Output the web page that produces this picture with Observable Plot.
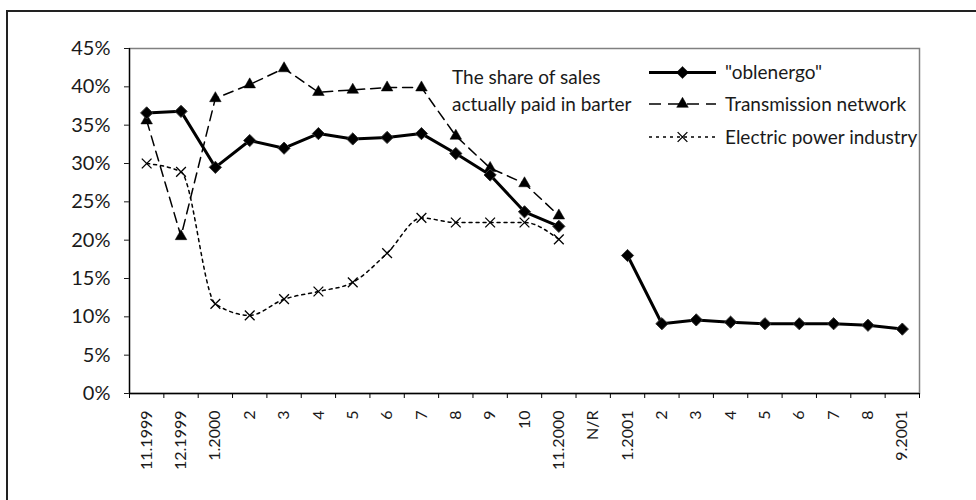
<!DOCTYPE html>
<html>
<head>
<meta charset="utf-8">
<script src="https://cdn.jsdelivr.net/npm/d3@7"></script>
<script src="https://cdn.jsdelivr.net/npm/@observablehq/plot@0.6"></script>
<style>
  body { margin: 0; background: #fff; }
  #wrap { position: relative; width: 976px; height: 500px; overflow: hidden; font-family: Lato, "Open Sans", sans-serif; color: #1a1a1a; }
  #box { position: absolute; left: 6px; top: 10px; width: 1100px; height: 700px; border: 2px solid #222; box-sizing: border-box; }
  #chart { position: absolute; left: 0; top: 0; }
  .note { position: absolute; left: 452px; top: 63px; font-size: 19px; line-height: 27px; white-space: nowrap; }
  #legend { position: absolute; left: 0; top: 0; }
</style>
</head>
<body>
<div id="wrap">
  <div id="box"></div>
  <div id="chart"></div>
  <div class="note">The share of sales<br>actually paid in barter</div>
  <svg id="legend" width="976" height="200"></svg>
</div>
<script>
// ---- Data (percent of sales actually paid in barter) ----
const xLabels = ["11.1999","12.1999","1.2000","2","3","4","5","6","7","8","9","10","11.2000","N/R","1.2001","2","3","4","5","6","7","8","9.2001"];
const oblenergo    = [36.6, 36.8, 29.5, 33.0, 32.0, 33.9, 33.2, 33.4, 33.9, 31.3, 28.5, 23.7, 21.8, null, 18.0, 9.1, 9.6, 9.3, 9.1, 9.1, 9.1, 8.9, 8.4];
const transmission = [35.6, 20.5, 38.5, 40.3, 42.4, 39.3, 39.6, 39.9, 39.9, 33.6, 29.4, 27.4, 23.2, null, null, null, null, null, null, null, null, null, null];
const electric     = [30.0, 28.9, 11.7, 10.2, 12.3, 13.3, 14.5, 18.3, 22.9, 22.3, 22.3, 22.3, 20.1, null, null, null, null, null, null, null, null, null, null];
const yTicks = [0, 5, 10, 15, 20, 25, 30, 35, 40, 45];
const seriesNames = ["\"oblenergo\"", "Transmission network", "Electric power industry"];

const n = xLabels.length;
const idx = d3.range(n);
const xDomain = [-0.5, n - 0.5];
const rows = (vals) => idx.map(i => ({i, v: vals[i]}));
const ob = rows(oblenergo), tr = rows(transmission), el = rows(electric);
const has = d => d.v != null;
const bounds = d3.range(n + 1).map(i => i - 0.5);
const FONT = "Lato, 'Open Sans', sans-serif";

const hasAxisMarks = typeof Plot.axisY === "function";
const xAxisOpts = {ticks: idx, tickFormat: i => xLabels[i], tickSize: 0, tickPadding: 17, tickRotate: -90, label: null};
const yAxisOpts = {ticks: yTicks, tickFormat: d => d + "%", tickSize: 5, tickPadding: 14, label: null};

const dataMarks = [
  Plot.frame({stroke: "#808080", strokeWidth: 1.5}),
  Plot.ruleY([0], {stroke: "#000", strokeWidth: 1.3}),
  Plot.ruleX([xDomain[0]], {stroke: "#000", strokeWidth: 1.3}),
  Plot.ruleX(bounds, {y1: 0, y2: 0, insetBottom: -5, stroke: "#000", strokeWidth: 1}),
  Plot.line(el, {x: "i", y: "v", curve: "monotone-x", stroke: "#000", strokeWidth: 1.5, strokeDasharray: "3,4"}),
  Plot.line(tr, {x: "i", y: "v", stroke: "#000", strokeWidth: 1.5, strokeDasharray: "10,6"}),
  Plot.line(ob, {x: "i", y: "v", stroke: "#000", strokeWidth: 3}),
  Plot.dot(el.filter(has), {x: "i", y: "v", symbol: "times", r: 4.5, stroke: "#000", strokeWidth: 1.3}),
  Plot.dot(tr.filter(has), {x: "i", y: "v", symbol: "triangle", r: 4.3, fill: "#000", stroke: "#000", strokeWidth: 0.5}),
  Plot.dot(ob.filter(has), {x: "i", y: "v", symbol: "diamond2", r: 5.5, fill: "#000", stroke: "#333", strokeWidth: 1})
];

const marks = hasAxisMarks
  ? [Plot.axisX({...xAxisOpts, fontSize: 16}), Plot.axisY({...yAxisOpts, fontSize: 20}), ...dataMarks]
  : dataMarks;

const chart = Plot.plot({
  width: 976,
  height: 500,
  marginLeft: 129,
  marginRight: 57,
  marginTop: 48,
  marginBottom: 107,
  style: {fontFamily: FONT, fontSize: "16px", color: "#1a1a1a", background: "transparent", overflow: "visible"},
  x: hasAxisMarks ? {type: "linear", domain: xDomain} : {type: "linear", domain: xDomain, ...xAxisOpts},
  y: hasAxisMarks ? {domain: [0, 45]} : {domain: [0, 45], ...yAxisOpts},
  marks
});
document.getElementById("chart").appendChild(chart);

// ---- Legend overlay ----
const lg = d3.select("#legend");
const legendItems = [
  {name: seriesNames[0], dash: null, width: 3, sym: d3.symbolDiamond2, size: Math.PI * 5.5 * 5.5, fill: "#000"},
  {name: seriesNames[1], dash: "12,7", width: 1.5, sym: d3.symbolTriangle, size: Math.PI * 4.3 * 4.3, fill: "#000"},
  {name: seriesNames[2], dash: "3,4", width: 1.5, sym: d3.symbolTimes, size: Math.PI * 4.5 * 4.5, fill: "none"}
];
const lx0 = 649, lx1 = 716, ly = [72.5, 104, 137];
legendItems.forEach((d, k) => {
  const g = lg.append("g").attr("transform", `translate(0,${ly[k]})`);
  g.append("line").attr("x1", lx0).attr("x2", lx1).attr("stroke", "#000")
    .attr("stroke-width", d.width).attr("stroke-dasharray", d.dash);
  g.append("path").attr("transform", `translate(${(lx0 + lx1) / 2},0)`)
    .attr("d", d3.symbol(d.sym, d.size)())
    .attr("fill", d.fill).attr("stroke", "#000").attr("stroke-width", d.fill === "none" ? 1.3 : 0.5);
  g.append("text").attr("x", 725).attr("y", 6.5).attr("fill", "#1a1a1a")
    .style("font-family", FONT).style("font-size", "19px").text(d.name);
});
</script>
</body>
</html>
